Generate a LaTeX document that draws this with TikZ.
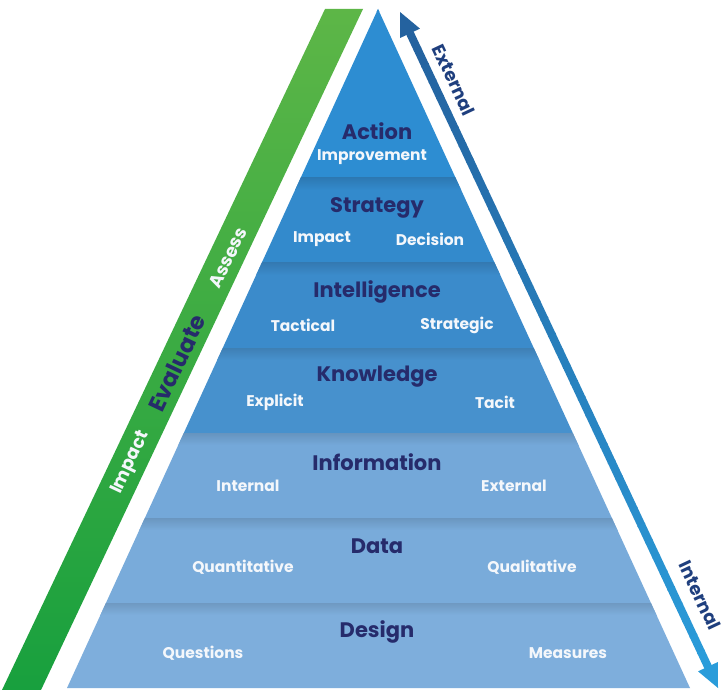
\documentclass[tikz,border=0pt]{standalone}
\usepackage{fontspec}
\setmainfont{Poppins}
\usetikzlibrary{calc}

\definecolor{navy}{HTML}{262B6B}
\definecolor{softwhite}{HTML}{F4F7FB}
\definecolor{layA}{HTML}{2D8DD2}
\definecolor{layB}{HTML}{338ACC}
\definecolor{layC}{HTML}{3B8BCB}
\definecolor{layD}{HTML}{4791CD}
\definecolor{layE}{HTML}{74A8D9}
\definecolor{layF}{HTML}{79ABDA}
\definecolor{layG}{HTML}{7EAEDC}
\definecolor{greenTop}{HTML}{5DB647}
\definecolor{greenBot}{HTML}{18A03E}
\definecolor{arrTop}{HTML}{24629F}
\definecolor{arrBot}{HTML}{2A9CDA}
\definecolor{arrText}{HTML}{1F3F7E}

\tikzset{
  title/.style={text=navy, font=\fontsize{21}{23}\selectfont\bfseries, inner sep=0pt},
  subtitle/.style={text=softwhite, font=\fontsize{15.5}{17}\selectfont\bfseries, inner sep=0pt},
  bandword/.style={text=softwhite, font=\fontsize{18}{20}\selectfont\bfseries, inner sep=0pt, rotate=64.7},
  bandkey/.style={text=navy, font=\fontsize{23}{25}\selectfont\bfseries, inner sep=0pt, rotate=64.7},
  sideword/.style={text=arrText, font=\fontsize{18}{20}\selectfont\bfseries, inner sep=0pt, rotate=-64.8},
}

\begin{document}
\begin{tikzpicture}[x=1pt,y=-1pt]
\useasboundingbox (0,0) rectangle (724,690);
\fill[white] (0,0) rectangle (724,690);

% ---- the pyramid, in seven stacked layers ----
\coordinate (apex) at (378,9);
\coordinate (baseL) at (67,688);
\coordinate (baseR) at (690,688);
\begin{scope}
  \clip (apex) -- (baseL) -- (baseR) -- cycle;
  \foreach \ya/\yb/\col in {0/178/layA, 178/263/layB, 263/348/layC, 348/433/layD,
                            433/518/layE, 518/603/layF, 603/690/layG} {
    \fill[\col] (0,\ya) rectangle (724,\yb);
    \shade[top color=\col!88!black, bottom color=\col] (0,\ya) rectangle (724,\ya+12);
  }
\end{scope}

% ---- layer titles and their two facets ----
\node[title] (action) at (377,131) {Action};
\node[subtitle] (improve) at (372,157) {Improvement};

\node[title] (strategy) at (377,208) {Strategy};
\node[subtitle] (impact) at (322,239) {Impact};
\node[subtitle] (decision) at (430,239) {Decision};

\node[title] (intel) at (377,292) {Intelligence};
\node[subtitle] (tactical) at (303,325) {Tactical};
\node[subtitle] (strategic) at (457,325) {Strategic};

\node[title] (knowledge) at (377,377) {Knowledge};
\node[subtitle] (explicit) at (275,402) {Explicit};
\node[subtitle] (tacit) at (495,402) {Tacit};

\node[title] (information) at (377,462) {Information};
\node[subtitle] (internalL) at (248,486) {Internal};
\node[subtitle] (externalL) at (514,486) {External};

\node[title] (data) at (377,546) {Data};
\node[subtitle] (quant) at (243,567) {Quantitative};
\node[subtitle] (qual) at (532,567) {Qualitative};

\node[title] (design) at (377,632) {Design};
\node[subtitle] (questions) at (203,653) {Questions};
\node[subtitle] (measures) at (568,653) {Measures};

% ---- green band along the left flank ----
\coordinate (gTL) at (325,9);
\coordinate (gTR) at (363,9);
\coordinate (gBR) at (41,690);
\coordinate (gBL) at (2,690);
\shade[top color=greenTop, bottom color=greenBot] (gTL) -- (gTR) -- (gBR) -- (gBL) -- cycle;

\node[bandword] (gImpact) at (131,463) {Impact};
\node[bandkey] (gEvaluate) at (177,363) {Evaluate};
\node[bandword] (gAssess) at (228,258) {Assess};

% ---- two-headed arrow along the right flank ----
\coordinate (aT) at (400,12);
\coordinate (aB) at (718,688);
\foreach \i in {0,...,39} {
  \pgfmathsetmacro\pa{0.031+0.938*\i/40}
  \pgfmathsetmacro\pb{0.031+0.938*(\i+1)/40+0.002}
  \pgfmathtruncatemacro\pc{100*\i/39}
  \colorlet{segc}{arrBot!\pc!arrTop}
  \draw[segc, line width=8pt] ($(aT)!\pa!(aB)$) -- ($(aT)!\pb!(aB)$);
}
\fill[arrTop] (aT) -- ($(aT)!26pt!25:(aB)$) -- ($(aT)!26pt!-25:(aB)$) -- cycle;
\fill[arrBot] (aB) -- ($(aB)!26pt!25:(aT)$) -- ($(aB)!26pt!-25:(aT)$) -- cycle;

\node[sideword] (sExternal) at (454,80) {External};
\node[sideword] (sInternal) at (700,595) {Internal};
\end{tikzpicture}
\end{document}
